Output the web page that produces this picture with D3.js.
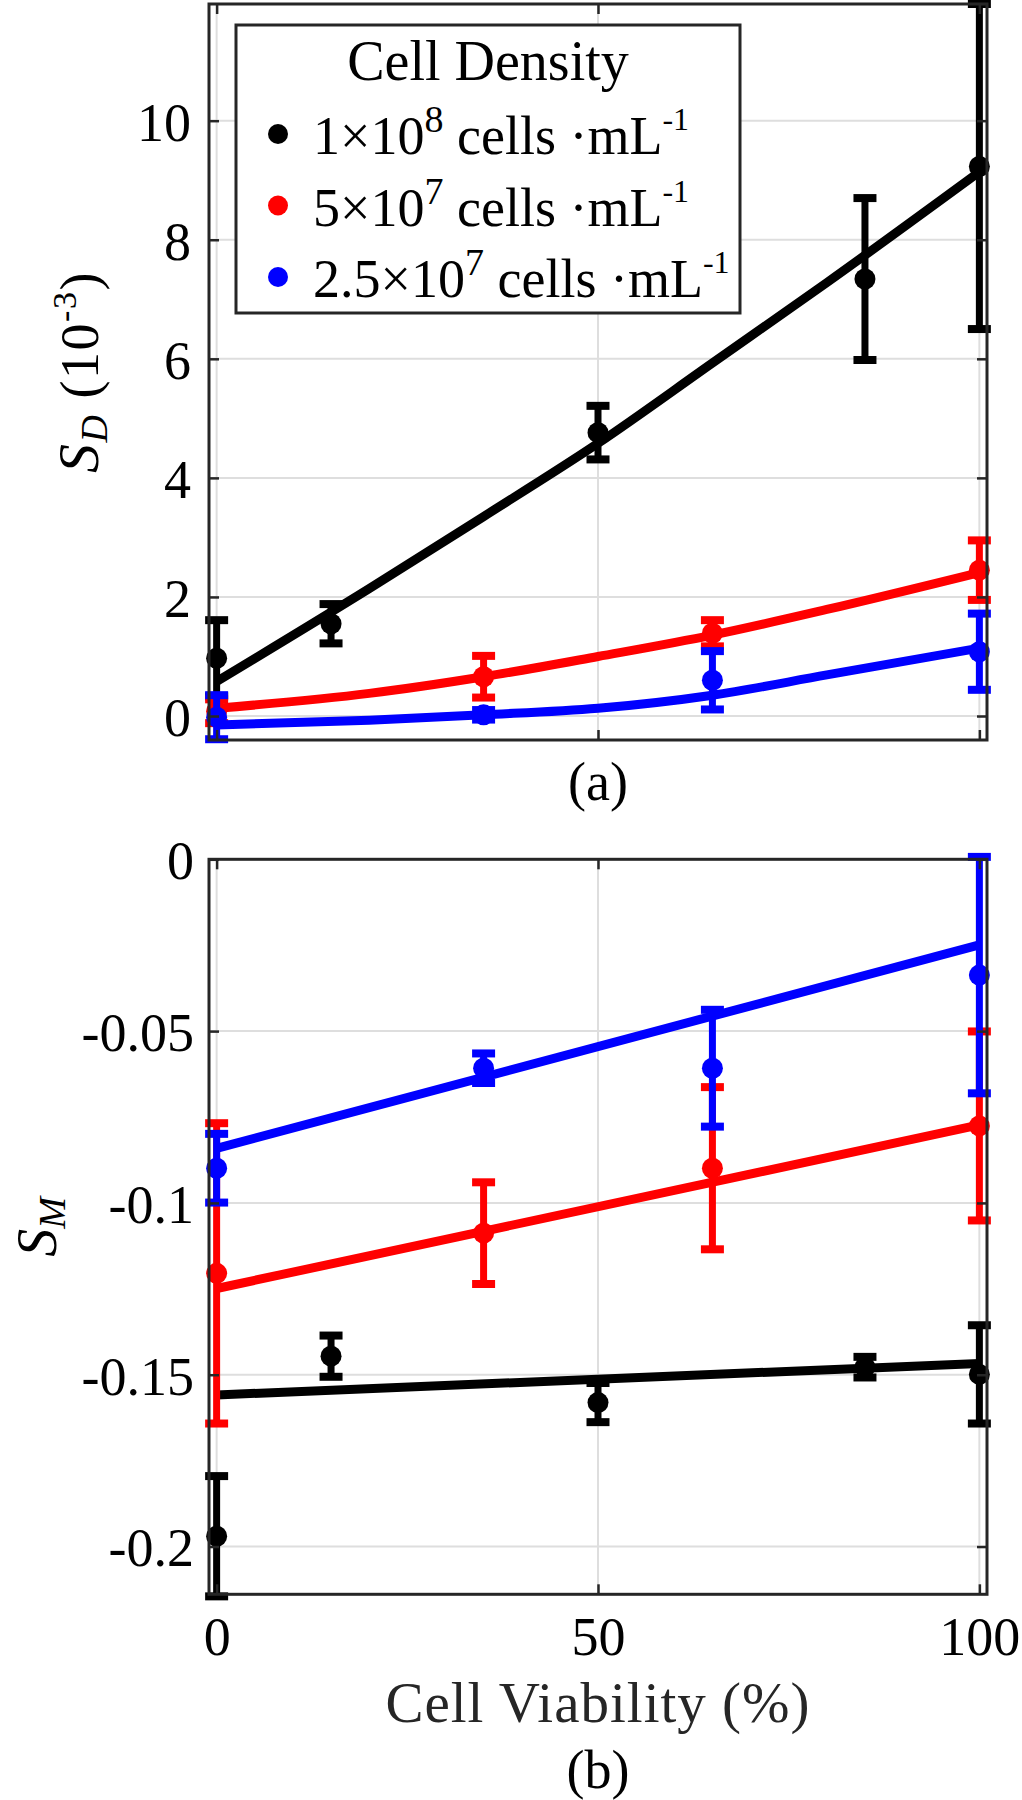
<!DOCTYPE html>
<html><head><meta charset="utf-8">
<script src="https://cdn.jsdelivr.net/npm/d3@7"></script>
<style>
body{margin:0;background:#fff}
svg{display:block}
svg text{font-family:'Liberation Serif','Tinos','Times New Roman','DejaVu Serif','Noto Serif',serif !important;fill:#000}
</style>
</head><body><svg id="c" width="1022" height="1800"></svg>
<script>
// ---------- data ----------
const legendMantissa = ["1", "5", "2.5"];
const legendExponent = ["8", "7", "7"];
const seriesColors = ["#000000", "#ff0000", "#0000ff"];
const legendTitle = "Cell Density";

// panel (a): S_D (10^-3)
const xBlack = [0, 15, 50, 85, 100];
const xRedBlue = [0, 35, 65, 100];
const sdBlack = [0.97, 1.55, 4.76, 7.34, 9.23];
const sdBlackErr = [0.64, 0.33, 0.45, 1.36, 2.73];
const sdRed = [0.08, 0.66, 1.39, 2.45];
const sdRedErr = [0.20, 0.35, 0.22, 0.50];
const sdBlue = [-0.02, 0.02, 0.60, 1.08];
const sdBlueErr = [0.37, 0.08, 0.49, 0.64];
const sdFitX = [0, 20, 35, 50, 65, 80, 100];
const sdFitBlack = [0.58, 2.14, 3.35, 4.58, 5.93, 7.28, 9.14];
const sdFitRed = [0.13, 0.38, 0.66, 1.00, 1.36, 1.79, 2.41];
const sdFitBlue = [-0.15, -0.07, 0.02, 0.13, 0.35, 0.69, 1.14];

// panel (b): S_M
const smBlack = [-0.197, -0.1446, -0.1581, -0.1478, -0.1499];
const smBlackErr = [0.0175, 0.006, 0.0057, 0.003, 0.0143];
const smRed = [-0.1205, -0.1088, -0.0899, -0.0776];
const smRedErr = [0.0437, 0.0148, 0.0236, 0.0275];
const smBlue = [-0.0899, -0.0608, -0.0608, -0.0337];
const smBlueErr = [0.010, 0.0043, 0.017, 0.0344];
const smFitX = [0, 100];
const smFitBlack = [-0.1559, -0.1467];
const smFitRed = [-0.1249, -0.0773];
const smFitBlue = [-0.0841, -0.0249];

const xTicks = [0, 50, 100];
const xTickLabels = ["0", "50", "100"];
const yTicksA = [0, 2, 4, 6, 8, 10];
const yTickLabelsA = ["0", "2", "4", "6", "8", "10"];
const yTicksB = [-0.2, -0.15, -0.1, -0.05, 0];
const yTickLabelsB = ["-0.2", "-0.15", "-0.1", "-0.05", "0"];

// ---------- layout ----------
const svg = d3.select("#c");
const FONT = "'Liberation Serif','Tinos','Times New Roman','DejaVu Serif',serif";
const L = 209, R = 987;
const A = {top: 4, bottom: 740};
const B = {top: 859.3, bottom: 1594.3};
const FS = 54;
const AX = "#262626";

const x = d3.scaleLinear().domain([-1, 101]).range([L, R]);
const ya = d3.scaleLinear().domain([-0.403, 11.96]).range([A.bottom, A.top]);
const yb = d3.scaleLinear().domain([-0.2139, 0]).range([B.bottom, B.top]);

function panel(y, P, yTicks) {
  const g = svg.append("g");
  g.selectAll(".gx").data(xTicks).join("line")
    .attr("x1", d => x(d)).attr("x2", d => x(d))
    .attr("y1", P.top).attr("y2", P.bottom)
    .attr("stroke", "#dedede").attr("stroke-width", 2);
  g.selectAll(".gy").data(yTicks).join("line")
    .attr("x1", L).attr("x2", R)
    .attr("y1", d => y(d)).attr("y2", d => y(d))
    .attr("stroke", "#dedede").attr("stroke-width", 2);
}

function axes(y, P, yTicks, yLabels, showXLabels, padY) {
  const g = svg.append("g");
  const left = g.append("g").attr("transform", `translate(${L},0)`)
    .call(d3.axisLeft(y).tickValues(yTicks).tickSize(-10).tickPadding(padY)
      .tickFormat((d, i) => yLabels[i]));
  const right = g.append("g").attr("transform", `translate(${R},0)`)
    .call(d3.axisRight(y).tickValues(yTicks).tickSize(-10).tickFormat(""));
  const bottom = g.append("g").attr("transform", `translate(0,${P.bottom})`)
    .call(d3.axisBottom(x).tickValues(xTicks).tickSize(-10).tickPadding(22)
      .tickFormat((d, i) => showXLabels ? xTickLabels[i] : ""));
  const top = g.append("g").attr("transform", `translate(0,${P.top})`)
    .call(d3.axisTop(x).tickValues(xTicks).tickSize(-10).tickFormat(""));
  [left, right, bottom, top].forEach(a => {
    a.attr("font-family", FONT);
    a.select(".domain").remove();
    a.selectAll("line").attr("stroke", AX).attr("stroke-width", 2.5);
    a.selectAll("text").attr("font-size", FS).attr("fill", "#000").attr("font-family", FONT);
  });
  left.selectAll("text").attr("dy", "0.36em");
  bottom.selectAll("text").attr("dy", "0.72em");
  g.append("rect").attr("x", L).attr("y", P.top).attr("width", R - L).attr("height", P.bottom - P.top)
    .attr("fill", "none").attr("stroke", AX).attr("stroke-width", 3);
}

function series(y, xs, ys, errs, fitX, fitY, color) {
  const g = svg.append("g");
  const capW = 11.5;
  xs.forEach((xv, i) => {
    const lo = y(ys[i] - errs[i]), hi = y(ys[i] + errs[i]);
    g.append("line").attr("x1", x(xv)).attr("x2", x(xv)).attr("y1", lo).attr("y2", hi)
      .attr("stroke", color).attr("stroke-width", 7);
    [lo, hi].forEach(cy => g.append("line")
      .attr("x1", x(xv) - capW).attr("x2", x(xv) + capW).attr("y1", cy).attr("y2", cy)
      .attr("stroke", color).attr("stroke-width", 8));
  });
  g.selectAll("circle").data(xs).join("circle")
    .attr("cx", d => x(d)).attr("cy", (d, i) => y(ys[i])).attr("r", 10.5).attr("fill", color);
  const line = d3.line().x(d => x(d[0])).y(d => y(d[1])).curve(d3.curveMonotoneX);
  g.append("path").attr("d", line(fitX.map((v, i) => [v, fitY[i]])))
    .attr("fill", "none").attr("stroke", color).attr("stroke-width", 9).attr("stroke-linecap", "butt");
}

// panel a
panel(ya, A, yTicksA);
series(ya, xBlack, sdBlack, sdBlackErr, sdFitX, sdFitBlack, seriesColors[0]);
series(ya, xRedBlue, sdRed, sdRedErr, sdFitX, sdFitRed, seriesColors[1]);
series(ya, xRedBlue, sdBlue, sdBlueErr, sdFitX, sdFitBlue, seriesColors[2]);
axes(ya, A, yTicksA, yTickLabelsA, false, 18);

// panel b
panel(yb, B, yTicksB);
series(yb, xBlack, smBlack, smBlackErr, smFitX, smFitBlack, seriesColors[0]);
series(yb, xRedBlue, smRed, smRedErr, smFitX, smFitRed, seriesColors[1]);
series(yb, xRedBlue, smBlue, smBlueErr, smFitX, smFitBlue, seriesColors[2]);
axes(yb, B, yTicksB, yTickLabelsB, true, 15);

// legend
const lg = svg.append("g").attr("font-family", FONT);
lg.append("rect").attr("x", 236).attr("y", 25).attr("width", 504).attr("height", 288)
  .attr("fill", "#fff").attr("stroke", AX).attr("stroke-width", 3);
lg.append("text").attr("x", 488).attr("y", 80).attr("text-anchor", "middle")
  .attr("font-size", 56).text(legendTitle);
legendMantissa.forEach((m, i) => {
  const by = 154 + i * 71.5;
  lg.append("circle").attr("cx", 278).attr("cy", by - 20).attr("r", 10).attr("fill", seriesColors[i]);
  const t = lg.append("text").attr("x", 313).attr("y", by).attr("font-size", FS);
  t.append("tspan").text(m + "×10");
  t.append("tspan").attr("font-size", 38).attr("dy", -22).text(legendExponent[i]);
  t.append("tspan").attr("font-size", FS).attr("dy", 22).text(" cells ·mL");
  t.append("tspan").attr("font-size", 32).attr("dy", -24).text("-1");
});

// y labels
const yl1 = svg.append("text").attr("transform", `translate(98,${(A.top + A.bottom) / 2}) rotate(-90)`)
  .attr("text-anchor", "middle").attr("font-size", FS).attr("letter-spacing", 1.5);
yl1.append("tspan").attr("font-style", "italic").attr("font-size", 58).text("S");
yl1.append("tspan").attr("font-style", "italic").attr("font-size", 38).attr("dy", 9).text("D");
yl1.append("tspan").attr("font-size", FS).attr("dy", -9).text(" (10");
yl1.append("tspan").attr("font-size", 34).attr("dy", -22).text("-3");
yl1.append("tspan").attr("font-size", FS).attr("dy", 22).text(")");

const yl2 = svg.append("text").attr("transform", `translate(56,${(B.top + B.bottom) / 2}) rotate(-90)`)
  .attr("text-anchor", "middle").attr("font-size", FS);
yl2.append("tspan").attr("font-style", "italic").attr("font-size", 56).text("S");
yl2.append("tspan").attr("font-style", "italic").attr("font-size", 38).attr("dy", 9).text("M");

// captions
svg.append("text").attr("x", (L + R) / 2).attr("y", 800).attr("text-anchor", "middle").attr("font-size", FS).text("(a)");
svg.append("text").attr("x", (L + R) / 2).attr("y", 1722).attr("text-anchor", "middle").attr("font-size", 57)
  .attr("letter-spacing", 1).style("fill", "#262626").text("Cell Viability (%)");
svg.append("text").attr("x", (L + R) / 2).attr("y", 1788).attr("text-anchor", "middle").attr("font-size", FS).text("(b)");
</script>
</body></html>
